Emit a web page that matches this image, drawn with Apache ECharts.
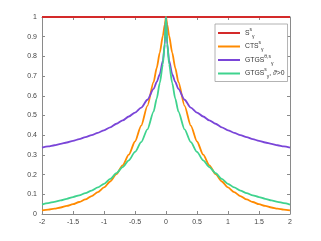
<!DOCTYPE html>
<html><head><meta charset="utf-8">
<script src="https://cdn.jsdelivr.net/npm/echarts@6/dist/echarts.min.js"></script>
<style>html,body{margin:0;padding:0;background:#fff}#c{width:321px;height:241px}</style>
</head><body><div id="c"></div>
<script>
const xs = [-2,-1.9,-1.8,-1.7,-1.6,-1.5,-1.4,-1.3,-1.2,-1.1,-1,-0.9,-0.8,-0.7,-0.6,-0.5,-0.4,-0.3,-0.2,-0.15,-0.1,-0.05,-0.02,0,0.02,0.05,0.1,0.15,0.2,0.3,0.4,0.5,0.6,0.7,0.8,0.9,1,1.1,1.2,1.3,1.4,1.5,1.6,1.7,1.8,1.9,2];
const sVals = [1,1,1,1,1,1,1,1,1,1,1,1,1,1,1,1,1,1,1,1,1,1,1,1,1,1,1,1,1,1,1,1,1,1,1,1,1,1,1,1,1,1,1,1,1,1,1];
const ctsVals = [0.018,0.022,0.027,0.033,0.041,0.050,0.061,0.074,0.091,0.111,0.135,0.165,0.202,0.247,0.301,0.368,0.449,0.549,0.670,0.741,0.819,0.905,0.961,1,0.961,0.905,0.819,0.741,0.670,0.549,0.449,0.368,0.301,0.247,0.202,0.165,0.135,0.111,0.091,0.074,0.061,0.050,0.041,0.033,0.027,0.022,0.018];
const gtgsThetaVals = [0.337,0.343,0.349,0.356,0.363,0.371,0.38,0.39,0.40,0.412,0.425,0.44,0.458,0.475,0.495,0.515,0.54,0.58,0.635,0.67,0.71,0.78,0.86,1,0.86,0.78,0.71,0.67,0.635,0.58,0.54,0.515,0.495,0.475,0.458,0.44,0.425,0.412,0.40,0.39,0.38,0.371,0.363,0.356,0.349,0.343,0.337];
const gtgsPosVals = [0.048,0.055,0.062,0.069,0.077,0.086,0.095,0.106,0.119,0.135,0.153,0.178,0.207,0.238,0.272,0.315,0.365,0.43,0.52,0.585,0.665,0.76,0.87,1,0.87,0.76,0.665,0.585,0.52,0.43,0.365,0.315,0.272,0.238,0.207,0.178,0.153,0.135,0.119,0.106,0.095,0.086,0.077,0.069,0.062,0.055,0.048];
const xTicks = [-2,-1.5,-1,-0.5,0,0.5,1,1.5,2];
const yTicks = [0,0.1,0.2,0.3,0.4,0.5,0.6,0.7,0.8,0.9,1];

const names = ['S','CTS','GTGSt','GTGSp'];
const colors = ['#d42a2a','#ff8a00','#7a45d8','#3fd38e'];
const pairs = v => xs.map((x,i)=>[x,v[i]]);
const FONT = 'Liberation Sans, Arial, Helvetica, sans-serif';
const LFONT = '"Liberation Sans Narrow", "Arial Narrow", Liberation Sans, sans-serif';
const axisCol = '#8a8a8a';
const chart = echarts.init(document.getElementById('c'));
const mk = (n,v,c) => ({name:n,type:'line',data:pairs(v),showSymbol:false,symbol:'none',smooth:0.25,smoothMonotone:'x',
  lineStyle:{color:c,width:1.8},itemStyle:{color:c},z:3});
chart.setOption({
  animation:false,
  backgroundColor:'#fff',
  grid:{left:42,right:31,top:17,bottom:27},
  legend:{
    orient:'vertical', left:215, top:24, itemWidth:22, itemHeight:2, itemGap:1.5,
    padding:[3,3,2,3], backgroundColor:'#fff', borderColor:'#a0a0a0', borderWidth:0.8, borderRadius:0,
    icon:'rect',
    data:names,
    formatter: n => ({
      S:'{b|S}{sup|s}{sub|γ}',
      CTS:'{b|CTS}{sup|s}{sub|γ}',
      GTGSt:'{b|GTGS}{sup|θ,s}{sub|γ}',
      GTGSp:'{b|GTGS}{sup|s}{sub|γ}{b|, }{it|ϑ}{b|>0}'
    })[n],
    textStyle:{fontFamily:LFONT,fontSize:6.8,color:'#333',
      rich:{
        b:{fontFamily:LFONT,fontSize:6.8,color:'#333',lineHeight:12,verticalAlign:'middle'},
        it:{fontFamily:LFONT,fontSize:6.8,fontStyle:'italic',color:'#333',lineHeight:12},
        sup:{fontFamily:LFONT,fontSize:5,color:'#333',lineHeight:12,verticalAlign:'top',padding:[0,0,3,0]},
        sub:{fontFamily:LFONT,fontSize:5,color:'#333',lineHeight:12,verticalAlign:'bottom',padding:[3,0,0,0]}
      }}
  },
  xAxis:[{type:'value',min:-2,max:2,interval:0.5,
    axisLine:{onZero:false,lineStyle:{color:axisCol,width:1}},
    axisTick:{inside:true,length:3,lineStyle:{color:axisCol}},
    splitLine:{show:false},
    axisLabel:{fontFamily:FONT,fontSize:7,color:'#444',margin:5,
      formatter:v=> xTicks.includes(v)? String(v):''}},
    {type:'value',position:'top',min:-2,max:2,interval:0.5,
    axisLine:{onZero:false,lineStyle:{color:axisCol,width:1}},
    axisTick:{inside:true,length:3,lineStyle:{color:axisCol}},
    splitLine:{show:false},axisLabel:{show:false}}],
  yAxis:[{type:'value',min:0,max:1,interval:0.1,
    axisLine:{show:true,onZero:false,lineStyle:{color:axisCol,width:1}},
    axisTick:{show:true,inside:true,length:3,lineStyle:{color:axisCol}},
    splitLine:{show:false},
    axisLabel:{fontFamily:FONT,fontSize:7,color:'#444',margin:5,
      formatter:v=>{const t=yTicks.find(y=>Math.abs(y-v)<1e-9);return t===undefined?'':String(t);}}},
    {type:'value',position:'right',min:0,max:1,interval:0.1,
    axisLine:{show:true,onZero:false,lineStyle:{color:axisCol,width:1}},
    axisTick:{show:true,inside:true,length:3,lineStyle:{color:axisCol}},
    splitLine:{show:false},axisLabel:{show:false}}],
  series:[
    mk('S',sVals,colors[0]),
    mk('CTS',ctsVals,colors[1]),
    mk('GTGSt',gtgsThetaVals,colors[2]),
    mk('GTGSp',gtgsPosVals,colors[3])
  ]
});
</script></body></html>
